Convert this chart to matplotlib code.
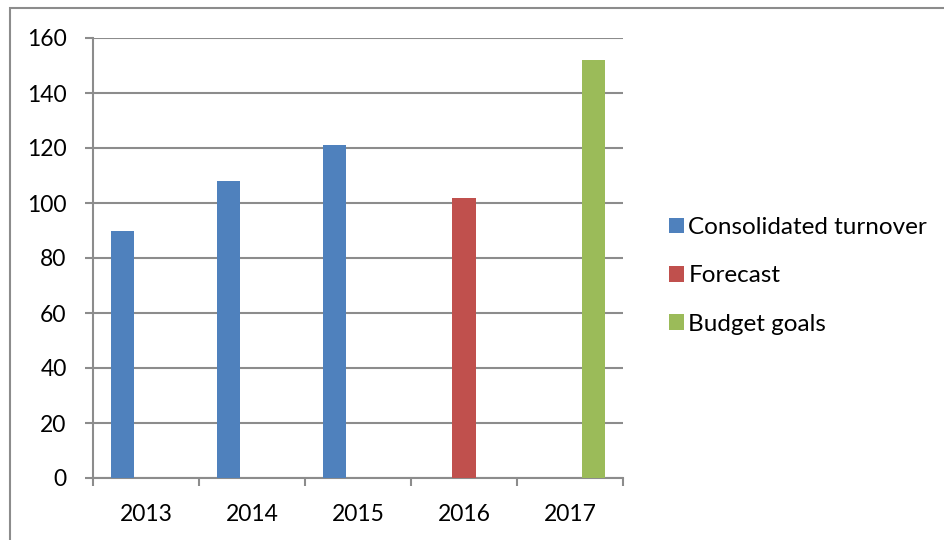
import numpy as np
import matplotlib.pyplot as plt
from matplotlib.patches import Rectangle, Patch

# data
years = ['2013', '2014', '2015', '2016', '2017']
consolidated = [90, 108, 121, np.nan, np.nan]
forecast = [np.nan, np.nan, np.nan, 102, np.nan]
budget = [np.nan, np.nan, np.nan, np.nan, 152]
series_names = ['Consolidated turnover', 'Forecast', 'Budget goals']
colors = ['#4F81BD', '#C0504D', '#9BBB59']

plt.rcParams['font.family'] = ['Lato', 'DejaVu Sans']
grey = '#8C8C8C'

fig = plt.figure(figsize=(9.45, 5.4), dpi=100)
ax = fig.add_axes([93 / 945, 62 / 540, 530 / 945, 440 / 540])

w = 1 / 4.5
x = np.arange(len(years)) + 0.5
for k, (vals, c) in enumerate(zip([consolidated, forecast, budget], colors)):
    ax.bar(x + (k - 1) * w, vals, width=w, color=c, zorder=3)

ax.set_xlim(0, len(years))
ax.set_ylim(0, 160)
ax.set_yticks(range(0, 161, 20))
ax.yaxis.grid(True, color=grey, linewidth=1.5, zorder=0)
ax.set_xticks(np.arange(len(years) + 1))
ax.set_xticklabels([])
ax.set_xticks(x, minor=True)
ax.set_xticklabels(years, minor=True)
ax.tick_params(axis='x', which='minor', length=0, pad=19, labelsize=16.5)
ax.tick_params(axis='x', which='major', length=6, width=1.5, color=grey)
ax.tick_params(axis='y', length=6, width=1.5, color=grey, pad=13, labelsize=16.5)

for s in ['top', 'right']:
    ax.spines[s].set_visible(False)
for s in ['left', 'bottom']:
    ax.spines[s].set_color(grey)
    ax.spines[s].set_linewidth(1.5)

handles = [Patch(facecolor=c, label=n) for c, n in zip(colors, series_names)]
fig.legend(handles=handles, loc='center left', bbox_to_anchor=(652 / 945, 1 - 276 / 540),
           frameon=False, fontsize=17.5, handlelength=0.6, handleheight=0.6,
           handletextpad=0.2, labelspacing=1.12, borderpad=0.2)

# outer chart frame
fig.patches.append(Rectangle((10 / 945, -0.1), 1.2, 1.1 - 8 / 540, transform=fig.transFigure,
                             fill=False, edgecolor=grey, linewidth=1.5))

fig.savefig('out.png', dpi=100)
